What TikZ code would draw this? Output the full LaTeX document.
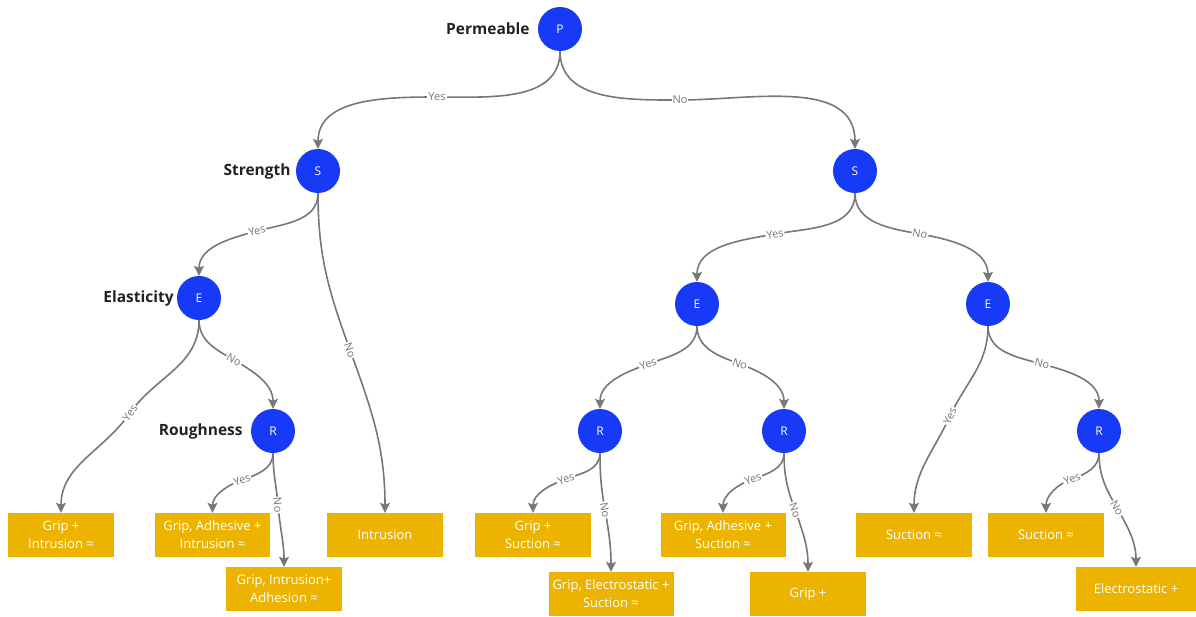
\documentclass[tikz,border=0pt]{standalone}
\usepackage{fontspec}
\setmainfont{Open Sans}
\usetikzlibrary{arrows.meta}
\definecolor{cblue}{RGB}{22,58,245}
\definecolor{cyel}{RGB}{236,180,0}
\definecolor{cgray}{RGB}{119,119,119}
\definecolor{ctext}{RGB}{34,34,34}
\begin{document}
\begin{tikzpicture}[x=1pt,y=1pt,
 dec/.style={circle, fill=cblue, minimum size=44pt, inner sep=0pt, text=white, font=\fontsize{12}{14}\selectfont},
 leaf/.style={fill=cyel, minimum width=116pt, minimum height=44pt, inner sep=0pt, text=white, align=center, font=\fontsize{13}{18}\selectfont},
 side/.style={font=\bfseries\fontsize{15.5}{18}\selectfont, text=ctext, anchor=east, inner sep=0pt},
 edge/.style={draw=cgray, line width=1.6pt, -{Stealth[length=10pt,width=10pt,inset=2pt]}},
 lbl/.style={fill=white, text=cgray, inner sep=1pt, font=\fontsize{11}{12}\selectfont}]
\useasboundingbox (0,0) rectangle (1196,-616);
% decision nodes
\node[dec] (P) at (560,-29) {P};
\node[dec] (Sl) at (318,-171) {S};
\node[dec] (Sr) at (855,-171) {S};
\node[dec] (El) at (199,-298) {E};
\node[dec] (Rl) at (273,-431) {R};
\node[dec] (Em) at (697,-304) {E};
\node[dec] (Er) at (988,-304) {E};
\node[dec] (Rml) at (600,-431) {R};
\node[dec] (Rmr) at (784,-431) {R};
\node[dec] (Rr) at (1099,-431) {R};
% side labels
\node[side, xshift=-8pt] (tP) at (P.west) {Permeable};
\node[side, xshift=-5pt] (tS) at (Sl.west) {Strength};
\node[side, xshift=-3pt] (tE) at (El.west) {Elasticity};
\node[side, xshift=-8pt] (tR) at (Rl.west) {Roughness};
% leaves
\node[leaf, minimum width=106pt] (L1) at (61,-535) {Grip +\\Intrusion ≈};
\node[leaf, minimum width=115pt] (L2) at (212.5,-535) {Grip, Adhesive +\\Intrusion ≈};
\node[leaf] (L3) at (284,-589) {Grip, Intrusion+\\Adhesion ≈};
\node[leaf] (L4) at (385,-535) {Intrusion};
\node[leaf] (L5) at (533,-535) {Grip +\\Suction ≈};
\node[leaf, minimum width=125pt] (L6) at (611,-594) {Grip, Electrostatic +\\Suction ≈};
\node[leaf, minimum width=125pt] (L7) at (723,-535) {Grip, Adhesive +\\Suction ≈};
\node[leaf] (L8) at (808,-594) {Grip +};
\node[leaf] (L9) at (914,-535) {Suction ≈};
\node[leaf] (L10) at (1046,-535) {Suction ≈};
\node[leaf, minimum width=120pt] (L11) at (1136,-589) {Electrostatic +};
% label coordinates
\coordinate (m1) at (437,-97);
\coordinate (m2) at (680,-100);
\coordinate (m3) at (257,-231);
\coordinate (m4) at (350,-350);
\coordinate (m5) at (234,-360);
\coordinate (m6) at (130,-413);
\coordinate (m7) at (242,-480);
\coordinate (m8) at (278,-505);
\coordinate (m9) at (775,-234);
\coordinate (m10) at (920,-234);
\coordinate (m11) at (648,-364);
\coordinate (m12) at (740,-364);
\coordinate (m13) at (566,-479);
\coordinate (m14) at (605,-510);
\coordinate (m15) at (753,-479);
\coordinate (m16) at (795,-510);
\coordinate (m17) at (950,-416);
\coordinate (m18) at (1042,-364);
\coordinate (m19) at (1072,-479);
\coordinate (m20) at (1117,-508);
% edges
\draw[edge] (P.south) to[out=-90,in=0] (m1) to[out=180,in=90] (Sl.north);
\draw[edge] (P.south) to[out=-90,in=180] (m2) to[out=0,in=90] (Sr.north);
\draw[edge] (Sl.south) to[out=-90,in=15] (m3) to[out=195,in=90] (El.north);
\draw[edge] (Sl.south) to[out=-90,in=110] (m4) to[out=-70,in=90] (L4.north);
\draw[edge] (El.south) to[out=-90,in=150] (m5) to[out=-30,in=90] (Rl.north);
\draw[edge] (El.south) to[out=-90,in=55] (m6) to[out=235,in=90] (L1.north);
\draw[edge] (Rl.south) to[out=-90,in=20] (m7) to[out=200,in=90] (L2.north);
\draw[edge] (Rl.south) to[out=-90,in=95] (m8) to[out=-85,in=90] (L3.north);
\draw[edge] (Sr.south) to[out=-90,in=10] (m9) to[out=190,in=90] (Em.north);
\draw[edge] (Sr.south) to[out=-90,in=170] (m10) to[out=-10,in=90] (Er.north);
\draw[edge] (Em.south) to[out=-90,in=20] (m11) to[out=200,in=90] (Rml.north);
\draw[edge] (Em.south) to[out=-90,in=160] (m12) to[out=-20,in=90] (Rmr.north);
\draw[edge] (Rml.south) to[out=-90,in=20] (m13) to[out=200,in=90] (L5.north);
\draw[edge] (Rml.south) to[out=-90,in=100] (m14) to[out=-80,in=90] (L6.north);
\draw[edge] (Rmr.south) to[out=-90,in=20] (m15) to[out=200,in=90] (L7.north);
\draw[edge] (Rmr.south) to[out=-90,in=110] (m16) to[out=-70,in=90] (L8.north);
\draw[edge] (Er.south) to[out=-90,in=65] (m17) to[out=245,in=90] (L9.north);
\draw[edge] (Er.south) to[out=-90,in=165] (m18) to[out=-15,in=90] (Rr.north);
\draw[edge] (Rr.south) to[out=-90,in=20] (m19) to[out=200,in=90] (L10.north);
\draw[edge] (Rr.south) to[out=-90,in=120] (m20) to[out=-60,in=90] (L11.north);
% edge labels
\node[lbl] (y1) at (m1) {Yes};
\node[lbl] (n2) at (m2) {No};
\node[lbl, rotate=15] (y3) at (m3) {Yes};
\node[lbl, rotate=-70] (n4) at (m4) {No};
\node[lbl, rotate=-30] (n5) at (m5) {No};
\node[lbl, rotate=55] (y6) at (m6) {Yes};
\node[lbl, rotate=20] (y7) at (m7) {Yes};
\node[lbl, rotate=-85] (n8) at (m8) {No};
\node[lbl, rotate=10] (y9) at (m9) {Yes};
\node[lbl, rotate=-10] (n10) at (m10) {No};
\node[lbl, rotate=20] (y11) at (m11) {Yes};
\node[lbl, rotate=-20] (n12) at (m12) {No};
\node[lbl, rotate=20] (y13) at (m13) {Yes};
\node[lbl, rotate=-80] (n14) at (m14) {No};
\node[lbl, rotate=20] (y15) at (m15) {Yes};
\node[lbl, rotate=-70] (n16) at (m16) {No};
\node[lbl, rotate=65] (y17) at (m17) {Yes};
\node[lbl, rotate=-15] (n18) at (m18) {No};
\node[lbl, rotate=20] (y19) at (m19) {Yes};
\node[lbl, rotate=-60] (n20) at (m20) {No};
\end{tikzpicture}
\end{document}
